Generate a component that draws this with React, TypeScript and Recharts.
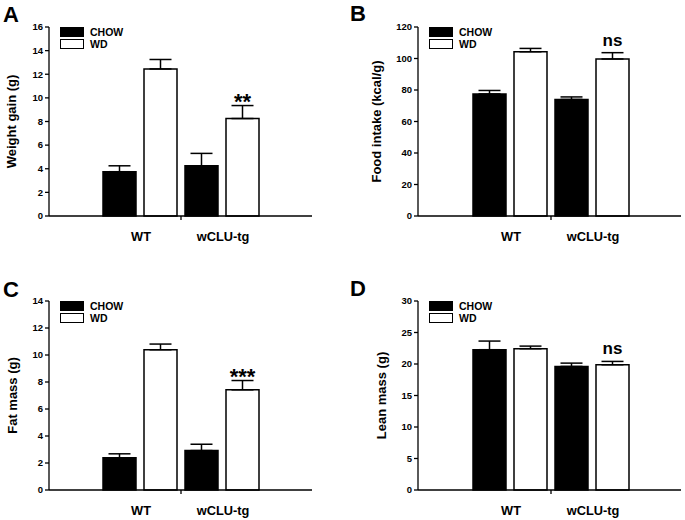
import { BarChart, Bar, XAxis, YAxis, ErrorBar, LabelList, Legend } from 'recharts';

const FONT = '"Liberation Sans", Arial, Helvetica, sans-serif';

const groups = ['WT', 'wCLU-tg'];
const seriesNames = ['CHOW', 'WD'];
const seriesFills = ['#000000', '#ffffff'];

// A: weight gain
const weightChow = [3.75, 4.25];
const weightChowErr = [0.5, 1.05];
const weightWd = [12.45, 8.25];
const weightWdErr = [0.8, 1.1];
const weightNotes = ['', '**'];
const weightTicks = [0, 2, 4, 6, 8, 10, 12, 14, 16];

// B: food intake
const foodChow = [77.5, 74.0];
const foodChowErr = [2.2, 1.6];
const foodWd = [104.3, 99.7];
const foodWdErr = [2.1, 4.0];
const foodNotes = ['', 'ns'];
const foodTicks = [0, 20, 40, 60, 80, 100, 120];

// C: fat mass
const fatChow = [2.38, 2.92];
const fatChowErr = [0.3, 0.47];
const fatWd = [10.39, 7.42];
const fatWdErr = [0.42, 0.69];
const fatNotes = ['', '***'];
const fatTicks = [0, 2, 4, 6, 8, 10, 12, 14];

// D: lean mass
const leanChow = [22.27, 19.61];
const leanChowErr = [1.37, 0.53];
const leanWd = [22.43, 19.88];
const leanWdErr = [0.41, 0.53];
const leanNotes = ['', 'ns'];
const leanTicks = [0, 5, 10, 15, 20, 25, 30];

const CHART_H = 260;
const TOP = 27;
const X_AXIS_H = 44;
const PLOT_H = CHART_H - TOP - X_AXIS_H;
const PLOT_W = 263;

function CategoryTick(props: any) {
  const { x, y, payload, index, half } = props;
  return (
    <g>
      <text
        x={x + 1}
        y={y + 25}
        textAnchor="middle"
        fontSize={12.8}
        fontWeight={700}
        fontFamily={FONT}
        fill="#000"
      >
        {payload.value}
      </text>
      {index === 0 && (
        <line x1={x + half} x2={x + half} y1={y} y2={y + 4} stroke="#000" strokeWidth={1.3} />
      )}
    </g>
  );
}

function DietLegend() {
  return (
    <div style={{ fontFamily: FONT, fontSize: 10.5, fontWeight: 700, color: '#000' }}>
      {seriesNames.map((n, i) => (
        <div key={n} style={{ display: 'flex', alignItems: 'center', height: 12 }}>
          <span
            style={{
              display: 'inline-block',
              width: 24,
              height: 10,
              boxSizing: 'border-box',
              border: '1.5px solid #000',
              background: seriesFills[i],
              marginRight: 6,
            }}
          />
          <span>{n}</span>
        </div>
      ))}
    </div>
  );
}

interface PanelProps {
  left: number;
  top: number;
  width: number;
  yWidth: number;
  padLeft: number;
  yMax: number;
  ticks: number[];
  yLabel: string;
  labelDx: number;
  chow: number[];
  chowErr: number[];
  wd: number[];
  wdErr: number[];
  notes: string[];
}

function Panel(p: PanelProps) {
  const data = groups.map((g, i) => ({
    group: g,
    chow: p.chow[i],
    chowErr: [0, p.chowErr[i]],
    wd: p.wd[i],
    wdErr: [0, p.wdErr[i]],
    note: p.notes[i],
  }));
  const rightMargin = p.width - p.yWidth - PLOT_W;
  const padRight = PLOT_W - p.padLeft - 164;
  const half = (PLOT_W - p.padLeft - padRight) / 4;
  const pxPerUnit = PLOT_H / p.yMax;

  const renderNote = (props: any) => {
    const vb = props.viewBox ?? props;
    const { value, index } = props;
    if (!value) return null;
    const errTop = vb.y - p.wdErr[index] * pxPerUnit;
    const star = String(value).startsWith('*');
    return (
      <text
        x={vb.x + vb.width / 2}
        y={star ? errTop + 3 : errTop - 7}
        textAnchor="middle"
        fontSize={star ? 22 : 17}
        fontWeight={700}
        fontFamily={FONT}
        fill="#000"
      >
        {value}
      </text>
    );
  };

  return (
    <div style={{ position: 'absolute', left: p.left, top: p.top }}>
      <BarChart
        width={p.width}
        height={CHART_H}
        data={data}
        margin={{ top: TOP, right: rightMargin, bottom: 0, left: 0 }}
        barSize={33}
        barGap={8}
      >
        <XAxis
          dataKey="group"
          height={X_AXIS_H}
          padding={{ left: p.padLeft, right: padRight }}
          axisLine={{ stroke: '#000', strokeWidth: 1.3 }}
          tickLine={false}
          tickSize={0}
          tickMargin={0}
          interval={0}
          tick={(tp: any) => <CategoryTick {...tp} half={half} />}
        />
        <YAxis
          width={p.yWidth}
          domain={[0, p.yMax]}
          ticks={p.ticks}
          interval={0}
          tickSize={4}
          tickMargin={2}
          axisLine={{ stroke: '#000', strokeWidth: 1.3 }}
          tickLine={{ stroke: '#000', strokeWidth: 1.3 }}
          tick={{ fontSize: 9.5, fontWeight: 700, fill: '#000', fontFamily: FONT }}
          label={{
            value: p.yLabel,
            angle: -90,
            position: 'center',
            dx: p.labelDx,
            style: { fontSize: 13, fontWeight: 700, fill: '#000', fontFamily: FONT },
          }}
        />
        <Legend
          layout="horizontal"
          verticalAlign="middle"
          align="center"
          content={() => <DietLegend />}
          wrapperStyle={{ left: p.yWidth + 11, top: TOP - 1, width: 'auto', margin: 0 }}
        />
        <Bar
          dataKey="chow"
          name="CHOW"
          fill="#000"
          stroke="#000"
          strokeWidth={1.5}
          isAnimationActive={false}
        >
          <ErrorBar dataKey="chowErr" width={11} stroke="#000" strokeWidth={1.5} direction="y" />
        </Bar>
        <Bar
          dataKey="wd"
          name="WD"
          fill="#fff"
          stroke="#000"
          strokeWidth={1.5}
          isAnimationActive={false}
        >
          <ErrorBar dataKey="wdErr" width={11} stroke="#000" strokeWidth={1.5} direction="y" />
          <LabelList dataKey="note" content={renderNote} />
        </Bar>
      </BarChart>
    </div>
  );
}

const letterStyle = { fontSize: 22, fontWeight: 700, fontFamily: FONT, fill: '#000' };

export default function App() {
  return (
    <div style={{ position: 'absolute', left: 0, top: 0, width: 685, height: 520, background: '#fff' }}>
      <Panel
        left={0}
        top={0}
        width={342}
        yWidth={49}
        padLeft={50}
        yMax={16}
        ticks={weightTicks}
        yLabel="Weight gain (g)"
        labelDx={-13}
        chow={weightChow}
        chowErr={weightChowErr}
        wd={weightWd}
        wdErr={weightWdErr}
        notes={weightNotes}
      />
      <Panel
        left={340}
        top={0}
        width={345}
        yWidth={78}
        padLeft={51}
        yMax={120}
        ticks={foodTicks}
        yLabel="Food intake (kcal/g)"
        labelDx={-2.5}
        chow={foodChow}
        chowErr={foodChowErr}
        wd={foodWd}
        wdErr={foodWdErr}
        notes={foodNotes}
      />
      <Panel
        left={0}
        top={274}
        width={342}
        yWidth={49}
        padLeft={50}
        yMax={14}
        ticks={fatTicks}
        yLabel="Fat mass (g)"
        labelDx={-12.5}
        chow={fatChow}
        chowErr={fatChowErr}
        wd={fatWd}
        wdErr={fatWdErr}
        notes={fatNotes}
      />
      <Panel
        left={340}
        top={274}
        width={345}
        yWidth={78}
        padLeft={51}
        yMax={30}
        ticks={leanTicks}
        yLabel="Lean mass (g)"
        labelDx={2.7}
        chow={leanChow}
        chowErr={leanChowErr}
        wd={leanWd}
        wdErr={leanWdErr}
        notes={leanNotes}
      />
      <svg
        width={685}
        height={520}
        style={{ position: 'absolute', left: 0, top: 0, pointerEvents: 'none' }}
      >
        <text x={3} y={22} {...letterStyle}>A</text>
        <text x={350} y={21} {...letterStyle}>B</text>
        <text x={3} y={297} {...letterStyle}>C</text>
        <text x={350} y={296} {...letterStyle}>D</text>
      </svg>
    </div>
  );
}
